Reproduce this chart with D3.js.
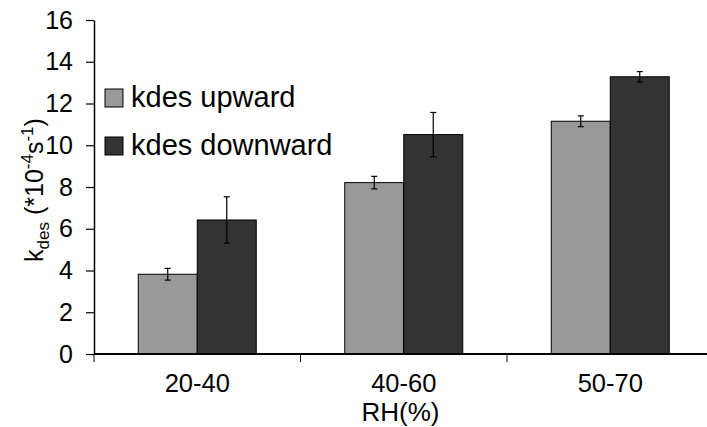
<!DOCTYPE html>
<html>
<head>
<meta charset="utf-8">
<script src="https://cdn.jsdelivr.net/npm/d3@7"></script>
<style>
  html, body { margin: 0; padding: 0; background: #fff; }
  svg { display: block; font-family: Arial, "Liberation Sans", sans-serif; }
</style>
</head>
<body>
<svg id="chart" width="707" height="427"></svg>
<script>
// Relative humidity ranges
const categories = ["20-40", "40-60", "50-70"];
// Series names
const seriesNames = ["kdes upward", "kdes downward"];
// Desorption rate constants (*10^-4 s^-1)
const upwardValues = [3.82, 8.21, 11.15];
const downwardValues = [6.42, 10.51, 13.28];
// Error bar half-widths
const upwardErrors = [0.28, 0.30, 0.26];
const downwardErrors = [1.11, 1.06, 0.25];
// Y axis tick values
const yTicks = [0, 2, 4, 6, 8, 10, 12, 14, 16];

const seriesColors = ["#999999", "#333333"];
const seriesValues = [upwardValues, downwardValues];
const seriesErrors = [upwardErrors, downwardErrors];

const svg = d3.select("#chart");
const plot = { left: 94, top: 20, bottom: 354, right: 707 };

const y = d3.scaleLinear().domain([0, 16]).range([plot.bottom, plot.top]);
const x0 = d3.scaleBand().domain(categories).range([plot.left, 713.5]).padding(0);
const barW = 59;
const x1 = d3.scaleBand().domain(seriesNames)
  .range([x0.bandwidth() / 2 - barW, x0.bandwidth() / 2 + barW]).padding(0);

// Bars
const rows = [];
categories.forEach((c, i) => {
  seriesNames.forEach((s, j) => {
    rows.push({ cat: c, series: s, j, value: seriesValues[j][i], err: seriesErrors[j][i] });
  });
});

svg.append("g").selectAll("rect").data(rows).join("rect")
  .attr("x", d => x0(d.cat) + x1(d.series))
  .attr("y", d => y(d.value))
  .attr("width", x1.bandwidth())
  .attr("height", d => y(0) - y(d.value))
  .attr("fill", d => seriesColors[d.j])
  .attr("stroke", "#000")
  .attr("stroke-width", 1);

// Error bars
const eg = svg.append("g").attr("stroke", "#000").attr("stroke-width", 1.2);
rows.forEach(d => {
  const cx = x0(d.cat) + x1(d.series) + x1.bandwidth() / 2;
  const yHi = y(d.value + d.err), yLo = y(d.value - d.err);
  eg.append("line").attr("x1", cx).attr("x2", cx).attr("y1", yHi).attr("y2", yLo);
  eg.append("line").attr("x1", cx - 3).attr("x2", cx + 3).attr("y1", yHi).attr("y2", yHi);
  eg.append("line").attr("x1", cx - 3).attr("x2", cx + 3).attr("y1", yLo).attr("y2", yLo);
});

// Y axis
const yAxis = svg.append("g").attr("transform", `translate(${plot.left},0)`)
  .call(d3.axisLeft(y).tickValues(yTicks).tickSize(8).tickSizeOuter(0).tickPadding(13));
yAxis.select(".domain").attr("stroke", "#000").attr("stroke-width", 1.5);
yAxis.selectAll(".tick line").attr("stroke", "#000").attr("stroke-width", 1.2);
yAxis.selectAll(".tick text").attr("font-size", 25).attr("fill", "#000")
  .style("font-family", "Arial, 'Liberation Sans', sans-serif");

// X axis
const xg = svg.append("g");
xg.append("line").attr("x1", plot.left).attr("x2", plot.right)
  .attr("y1", plot.bottom).attr("y2", plot.bottom)
  .attr("stroke", "#000").attr("stroke-width", 2);
categories.forEach(c => {
  const bx = x0(c);
  xg.append("line").attr("x1", bx).attr("x2", bx)
    .attr("y1", plot.bottom).attr("y2", plot.bottom + 8)
    .attr("stroke", "#000").attr("stroke-width", 1);
  xg.append("text").attr("x", bx + x0.bandwidth() / 2).attr("y", 392)
    .attr("text-anchor", "middle").attr("font-size", 25.5).text(c);
});

// X axis title
svg.append("text").attr("x", (plot.left + plot.right) / 2).attr("y", 421)
  .attr("text-anchor", "middle").attr("font-size", 26).text("RH(%)");

// Y axis title
const yt = svg.append("text")
  .attr("transform", "translate(43,190) rotate(-90)")
  .attr("text-anchor", "middle").attr("font-size", 25);
yt.append("tspan").text("k");
yt.append("tspan").attr("font-size", 17).attr("dy", 6).text("des");
yt.append("tspan").attr("dy", -6).text(" (*10");
yt.append("tspan").attr("font-size", 17).attr("dy", -10).text("-4");
yt.append("tspan").attr("dy", 10).text("s");
yt.append("tspan").attr("font-size", 17).attr("dy", -10).text("-1");
yt.append("tspan").attr("dy", 10).text(")");

// Legend
const lg = svg.append("g");
seriesNames.forEach((s, j) => {
  const ly = 89 + j * 48;
  lg.append("rect").attr("x", 105).attr("y", ly).attr("width", 18).attr("height", 18)
    .attr("fill", seriesColors[j]).attr("stroke", "#000").attr("stroke-width", 1);
  lg.append("text").attr("x", 131).attr("y", ly + 18).attr("font-size", 29).text(s);
});
</script>
</body>
</html>
